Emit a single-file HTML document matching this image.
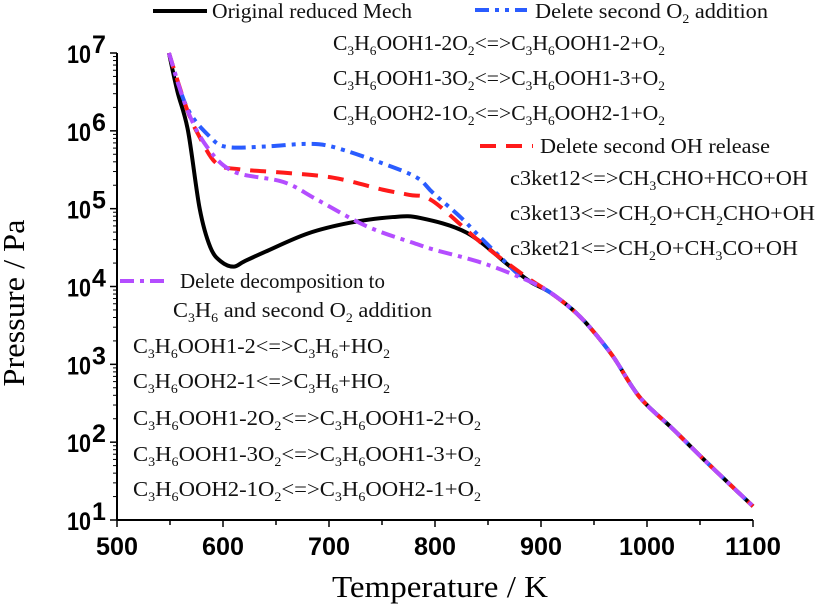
<!DOCTYPE html>
<html><head><meta charset="utf-8"><style>
html,body{margin:0;padding:0;background:#fff;}
svg{display:block;}
.lg{font-family:"Liberation Serif",serif;font-size:21px;fill:#111;}
.sb{font-size:13px;}
.tk{font-family:"Liberation Sans",sans-serif;font-weight:bold;font-size:25px;fill:#000;}
.ti{font-family:"Liberation Serif",serif;font-size:31px;fill:#000;}
</style></head><body>
<svg id="chart" width="816" height="608" viewBox="0 0 816 608">
<g id="axes"></g>
<g id="series"></g>
<text class="ti" x="440" y="597" text-anchor="middle" textLength="216" lengthAdjust="spacingAndGlyphs">Temperature / K</text>
<text class="ti" transform="translate(24,303) rotate(-90)" text-anchor="middle" textLength="167" lengthAdjust="spacingAndGlyphs">Pressure / Pa</text>

<g>
<line x1="153" y1="11" x2="207" y2="11" stroke="#000" stroke-width="4"/>
<text class="lg" x="212" y="18" textLength="200" lengthAdjust="spacingAndGlyphs">Original reduced Mech</text>
<line x1="475" y1="10" x2="527" y2="10" stroke="#2a5cff" stroke-width="4" stroke-dasharray="14 6 4 6 4 6"/>
<text class="lg" x="535" y="18" textLength="233" lengthAdjust="spacingAndGlyphs">Delete second O<tspan class="sb" dy="5">2</tspan><tspan dy="-5"> addition</tspan></text>
<text class="lg" x="333" y="50" textLength="332" lengthAdjust="spacingAndGlyphs">C<tspan class="sb" dy="5">3</tspan><tspan dy="-5">H</tspan><tspan class="sb" dy="5">6</tspan><tspan dy="-5">OOH1-2O</tspan><tspan class="sb" dy="5">2</tspan><tspan dy="-5">&lt;=&gt;C</tspan><tspan class="sb" dy="5">3</tspan><tspan dy="-5">H</tspan><tspan class="sb" dy="5">6</tspan><tspan dy="-5">OOH1-2+O</tspan><tspan class="sb" dy="5">2</tspan></text>
<text class="lg" x="333" y="85" textLength="332" lengthAdjust="spacingAndGlyphs">C<tspan class="sb" dy="5">3</tspan><tspan dy="-5">H</tspan><tspan class="sb" dy="5">6</tspan><tspan dy="-5">OOH1-3O</tspan><tspan class="sb" dy="5">2</tspan><tspan dy="-5">&lt;=&gt;C</tspan><tspan class="sb" dy="5">3</tspan><tspan dy="-5">H</tspan><tspan class="sb" dy="5">6</tspan><tspan dy="-5">OOH1-3+O</tspan><tspan class="sb" dy="5">2</tspan></text>
<text class="lg" x="333" y="120" textLength="332" lengthAdjust="spacingAndGlyphs">C<tspan class="sb" dy="5">3</tspan><tspan dy="-5">H</tspan><tspan class="sb" dy="5">6</tspan><tspan dy="-5">OOH2-1O</tspan><tspan class="sb" dy="5">2</tspan><tspan dy="-5">&lt;=&gt;C</tspan><tspan class="sb" dy="5">3</tspan><tspan dy="-5">H</tspan><tspan class="sb" dy="5">6</tspan><tspan dy="-5">OOH2-1+O</tspan><tspan class="sb" dy="5">2</tspan></text>
<line x1="480" y1="146" x2="533" y2="146" stroke="#ff1a1a" stroke-width="4" stroke-dasharray="16 10"/>
<text class="lg" x="540" y="153" textLength="230" lengthAdjust="spacingAndGlyphs">Delete second OH release</text>
<text class="lg" x="510" y="185" textLength="298" lengthAdjust="spacingAndGlyphs">c3ket12&lt;=&gt;CH<tspan class="sb" dy="5">3</tspan><tspan dy="-5">CHO+HCO+OH</tspan></text>
<text class="lg" x="510" y="220" textLength="305" lengthAdjust="spacingAndGlyphs">c3ket13&lt;=&gt;CH<tspan class="sb" dy="5">2</tspan><tspan dy="-5">O+CH</tspan><tspan class="sb" dy="5">2</tspan><tspan dy="-5">CHO+OH</tspan></text>
<text class="lg" x="510" y="255" textLength="288" lengthAdjust="spacingAndGlyphs">c3ket21&lt;=&gt;CH<tspan class="sb" dy="5">2</tspan><tspan dy="-5">O+CH</tspan><tspan class="sb" dy="5">3</tspan><tspan dy="-5">CO+OH</tspan></text>
<line x1="120" y1="281" x2="170" y2="281" stroke="#b44dff" stroke-width="4" stroke-dasharray="14 6 4 6"/>
<text class="lg" x="180" y="288" textLength="205" lengthAdjust="spacingAndGlyphs">Delete decomposition to</text>
<text class="lg" x="173" y="317" textLength="259" lengthAdjust="spacingAndGlyphs">C<tspan class="sb" dy="5">3</tspan><tspan dy="-5">H</tspan><tspan class="sb" dy="5">6</tspan><tspan dy="-5"> and second O</tspan><tspan class="sb" dy="5">2</tspan><tspan dy="-5"> addition</tspan></text>
<text class="lg" x="133" y="353" textLength="257" lengthAdjust="spacingAndGlyphs">C<tspan class="sb" dy="5">3</tspan><tspan dy="-5">H</tspan><tspan class="sb" dy="5">6</tspan><tspan dy="-5">OOH1-2&lt;=&gt;C</tspan><tspan class="sb" dy="5">3</tspan><tspan dy="-5">H</tspan><tspan class="sb" dy="5">6</tspan><tspan dy="-5">+HO</tspan><tspan class="sb" dy="5">2</tspan></text>
<text class="lg" x="133" y="388" textLength="257" lengthAdjust="spacingAndGlyphs">C<tspan class="sb" dy="5">3</tspan><tspan dy="-5">H</tspan><tspan class="sb" dy="5">6</tspan><tspan dy="-5">OOH2-1&lt;=&gt;C</tspan><tspan class="sb" dy="5">3</tspan><tspan dy="-5">H</tspan><tspan class="sb" dy="5">6</tspan><tspan dy="-5">+HO</tspan><tspan class="sb" dy="5">2</tspan></text>
<text class="lg" x="133" y="425" textLength="348" lengthAdjust="spacingAndGlyphs">C<tspan class="sb" dy="5">3</tspan><tspan dy="-5">H</tspan><tspan class="sb" dy="5">6</tspan><tspan dy="-5">OOH1-2O</tspan><tspan class="sb" dy="5">2</tspan><tspan dy="-5">&lt;=&gt;C</tspan><tspan class="sb" dy="5">3</tspan><tspan dy="-5">H</tspan><tspan class="sb" dy="5">6</tspan><tspan dy="-5">OOH1-2+O</tspan><tspan class="sb" dy="5">2</tspan></text>
<text class="lg" x="133" y="461" textLength="348" lengthAdjust="spacingAndGlyphs">C<tspan class="sb" dy="5">3</tspan><tspan dy="-5">H</tspan><tspan class="sb" dy="5">6</tspan><tspan dy="-5">OOH1-3O</tspan><tspan class="sb" dy="5">2</tspan><tspan dy="-5">&lt;=&gt;C</tspan><tspan class="sb" dy="5">3</tspan><tspan dy="-5">H</tspan><tspan class="sb" dy="5">6</tspan><tspan dy="-5">OOH1-3+O</tspan><tspan class="sb" dy="5">2</tspan></text>
<text class="lg" x="133" y="496" textLength="348" lengthAdjust="spacingAndGlyphs">C<tspan class="sb" dy="5">3</tspan><tspan dy="-5">H</tspan><tspan class="sb" dy="5">6</tspan><tspan dy="-5">OOH2-1O</tspan><tspan class="sb" dy="5">2</tspan><tspan dy="-5">&lt;=&gt;C</tspan><tspan class="sb" dy="5">3</tspan><tspan dy="-5">H</tspan><tspan class="sb" dy="5">6</tspan><tspan dy="-5">OOH2-1+O</tspan><tspan class="sb" dy="5">2</tspan></text>
</g>
</svg>
<script>
const xTicks = [500, 600, 700, 800, 900, 1000, 1100];
const yExponents = [1, 2, 3, 4, 5, 6, 7];
const tailT = [890, 908, 930, 946, 968, 993, 1025, 1057, 1100];
const tailP = [1.15e4, 8.5e3, 5.0e3, 3.0e3, 1.26e3, 380, 145, 54, 15];
const blackT = [549, 557, 567, 578, 588, 598, 610, 620, 640, 680, 720, 760, 786, 830, 871];
const blackP = [1e7, 3.2e6, 1e6, 1e5, 3.2e4, 2.1e4, 1.8e4, 2.1e4, 2.8e4, 4.8e4, 6.6e4, 7.8e4, 7.6e4, 4.9e4, 1.8e4];
const blueT = [549, 566, 588, 604, 641, 679, 704, 751, 783, 798, 824, 842, 877];
const blueP = [1e7, 2.0e6, 8.3e5, 6.2e5, 6.3e5, 6.8e5, 6.2e5, 3.8e5, 2.5e5, 1.6e5, 7.8e4, 4.4e4, 1.5e4];
const redT = [549, 566, 578, 594, 616, 657, 704, 751, 776, 798, 845, 887];
const redP = [1e7, 1.9e6, 8.3e5, 3.8e5, 3.2e5, 2.9e5, 2.5e5, 1.75e5, 1.5e5, 1.25e5, 3.5e4, 1.3e4];
const purpleT = [549, 566, 585, 610, 657, 689, 736, 783, 798, 845, 887];
const purpleP = [1e7, 1.9e6, 6.2e5, 3.0e5, 2.2e5, 1.3e5, 5.9e4, 3.5e4, 3.0e4, 2.0e4, 1.2e4];

const X0 = 117, X1 = 753, Y7 = 53, Y1 = 520;
const xs = t => X0 + (t - 500) / 600 * (X1 - X0);
const ys = p => Y1 - (Math.log10(p) - 1) / 6 * (Y1 - Y7);
const NS = 'http://www.w3.org/2000/svg';
const axes = document.getElementById('axes');
const series = document.getElementById('series');
function mk(tag, attrs, parent) {
  const e = document.createElementNS(NS, tag);
  for (const k in attrs) e.setAttribute(k, attrs[k]);
  parent.appendChild(e);
  return e;
}
let sp = mk('line', {x1: X0, y1: Y7, x2: X0, y2: Y1, stroke: '#000', 'stroke-width': 2}, axes);


sp = mk('line', {x1: X0, y1: Y1, x2: X1, y2: Y1, stroke: '#000', 'stroke-width': 2}, axes);


for (let t = 500; t <= 1100; t += 50) {
  const major = t % 100 === 0;
  const tk = mk('line', {x1: xs(t), y1: Y1, x2: xs(t), y2: Y1 + (major ? 7 : 5), stroke: '#000', 'stroke-width': 1.5}, axes);
  
  
}
xTicks.forEach(t => {
  const tx = mk('text', {x: xs(t), y: 555, 'text-anchor': 'middle', class: 'tk', textLength: (t >= 1000 ? 56 : 42), lengthAdjust: 'spacingAndGlyphs'}, axes);
  tx.textContent = t;
  
  
});
yExponents.forEach(e => {
  const y = ys(Math.pow(10, e));
  const tk = mk('line', {x1: X0 - 7, y1: y, x2: X0, y2: y, stroke: '#000', 'stroke-width': 1.5}, axes);
  
  
  if (e < 7) {
    for (let m = 2; m <= 9; m++) {
      const ym = ys(m * Math.pow(10, e));
      const mt = mk('line', {x1: X0 - 4, y1: ym, x2: X0, y2: ym, stroke: '#000', 'stroke-width': 1}, axes);
      
      
    }
  }
  const tx = mk('text', {x: 67, y: y + 10, class: 'tk', textLength: 24, lengthAdjust: 'spacingAndGlyphs'}, axes);
  tx.textContent = '10';
  
  
  const sx = mk('text', {x: 92, y: y, class: 'tk', 'font-size': '15'}, axes);
  sx.textContent = e;
  
  
});
function pathFrom(T, P) {
  const pts = [];
  T.forEach((t, i) => pts.push([xs(t), ys(P[i])]));
  tailT.forEach((t, i) => { if (t > T[T.length - 1] + 5) pts.push([xs(t), ys(tailP[i])]); });
  let d = 'M' + pts[0][0] + ',' + pts[0][1];
  for (let i = 0; i < pts.length - 1; i++) {
    const p0 = pts[i - 1] || pts[i], p1 = pts[i], p2 = pts[i + 1], p3 = pts[i + 2] || p2;
    const c1x = p1[0] + (p2[0] - p0[0]) / 6, c1y = p1[1] + (p2[1] - p0[1]) / 6;
    const c2x = p2[0] - (p3[0] - p1[0]) / 6, c2y = p2[1] - (p3[1] - p1[1]) / 6;
    d += ' C' + c1x + ',' + c1y + ' ' + c2x + ',' + c2y + ' ' + p2[0] + ',' + p2[1];
  }
  return d;
}
let s = mk('path', {d: pathFrom(blackT, blackP), fill: 'none', stroke: '#000', 'stroke-width': 4}, series);


s = mk('path', {d: pathFrom(blueT, blueP), fill: 'none', stroke: '#2a5cff', 'stroke-width': 4, 'stroke-dasharray': '14 6 4 6 4 6'}, series);


s = mk('path', {d: pathFrom(redT, redP), fill: 'none', stroke: '#ff1a1a', 'stroke-width': 4, 'stroke-dasharray': '16 10'}, series);


s = mk('path', {d: pathFrom(purpleT, purpleP), fill: 'none', stroke: '#b44dff', 'stroke-width': 4, 'stroke-dasharray': '14 6 4 6'}, series);


</script>
</body></html>
